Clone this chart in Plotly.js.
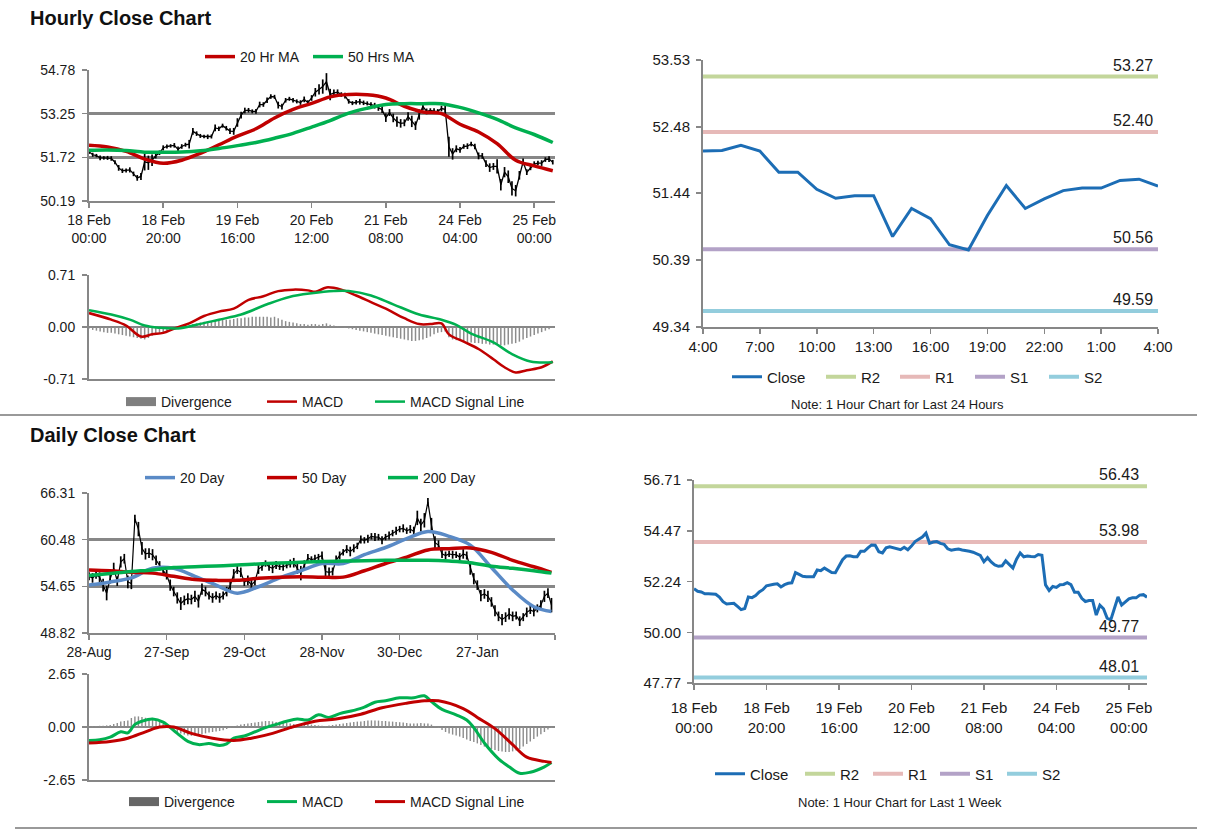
<!DOCTYPE html>
<html><head><meta charset="utf-8">
<script src="https://cdn.plot.ly/plotly-3.0.1.min.js"></script>
<style>html,body{margin:0;padding:0;background:#fff}#chart{width:1212px;height:834px}</style>
</head><body><div id="chart"></div>
<script>
// ---------------- DATA ----------------
// Hourly close, 18 Feb 00:00 .. 25 Feb 04:00 (126 hourly bars)
const hourClose = [51.92,51.81,51.78,51.70,51.70,51.70,51.68,51.55,51.35,51.25,
 51.26,51.28,51.14,51.00,51.05,51.56,51.53,51.62,51.78,51.88,
 52.05,52.10,52.12,52.14,52.00,52.10,52.16,52.18,52.63,52.55,
 52.47,52.45,52.44,52.45,52.75,52.72,52.83,52.74,52.64,52.63,
 52.94,53.20,53.36,53.37,53.33,53.33,53.57,53.57,53.72,53.85,
 53.84,53.55,53.50,53.72,53.77,53.72,53.68,53.64,53.75,53.64,
 53.80,54.00,54.10,54.20,54.37,53.92,53.98,54.00,53.92,53.88,
 53.68,53.62,53.65,53.67,53.63,53.61,53.57,53.53,53.45,53.39,
 53.11,53.29,53.10,52.97,52.91,52.93,53.15,52.98,52.83,53.22,
 53.50,53.33,53.36,53.34,53.33,53.43,53.40,52.09,51.84,52.02,
 51.98,52.10,52.11,52.19,52.10,51.77,51.77,51.50,51.36,51.40,
 51.40,50.76,51.20,51.04,50.63,50.55,51.09,51.56,51.20,51.35,
 51.48,51.52,51.52,51.64,51.66,51.55];
// half of the hourly high-low range
const hourBarHalf = [0.08,0.07,0.06,0.08,0.06,0.07,0.08,0.07,0.10,0.08,0.07,0.09,0.08,0.10,0.12,0.30,0.25,0.20,0.10,0.08,
 0.09,0.07,0.06,0.08,0.10,0.08,0.07,0.15,0.12,0.08,0.07,0.06,0.08,0.07,0.12,0.08,0.07,0.08,0.10,0.12,
 0.15,0.12,0.10,0.08,0.07,0.08,0.10,0.08,0.10,0.08,0.07,0.12,0.10,0.08,0.07,0.08,0.07,0.08,0.10,0.08,
 0.10,0.15,0.18,0.25,0.30,0.20,0.12,0.10,0.08,0.10,0.08,0.07,0.08,0.10,0.08,0.07,0.08,0.10,0.10,0.12,
 0.15,0.12,0.15,0.18,0.15,0.12,0.15,0.20,0.15,0.18,0.12,0.10,0.08,0.10,0.08,0.10,0.12,0.35,0.20,0.12,
 0.10,0.08,0.10,0.08,0.10,0.12,0.10,0.12,0.15,0.12,0.25,0.20,0.18,0.22,0.25,0.20,0.15,0.12,0.10,0.08,
 0.10,0.08,0.10,0.08,0.10,0.08];
const hourTickLabels = ['18 Feb<br>00:00','18 Feb<br>20:00','19 Feb<br>16:00','20 Feb<br>12:00','21 Feb<br>08:00','24 Feb<br>04:00','25 Feb<br>00:00'];
const hourPriceTicks = [50.19, 51.72, 53.25, 54.78];
// hourly moving averages (sampled every 5 bars)
const hMaIdx = [0,5,10,15,20,25,30,35,40,45,50,55,60,65,70,75,80,85,90,95,100,105,110,115,120,125];
const hMa20 = [52.14,52.08,51.93,51.66,51.51,51.62,51.86,52.16,52.46,52.72,53.10,53.40,53.61,53.84,53.92,53.91,53.80,53.51,53.31,53.25,52.88,52.61,52.20,51.62,51.42,51.25];
const hMa50 = [51.97,51.98,51.96,51.90,51.90,51.91,51.95,52.03,52.13,52.24,52.39,52.56,52.78,53.01,53.27,53.44,53.57,53.60,53.60,53.60,53.47,53.28,53.05,52.75,52.52,52.24];
// hourly MACD
const hMacdIdx = [0,6,10,14,17,20,23,27,31,35,39,43,47,51,55,59,61,64,68,72,76,80,85,89,92,95,97,101,105,109,112,115,118,122,125];
const hMacd = [0.19,0.10,0.02,-0.13,-0.10,-0.08,-0.02,0.05,0.15,0.21,0.25,0.37,0.42,0.49,0.51,0.50,0.48,0.54,0.51,0.43,0.34,0.25,0.12,0.04,0.04,0.05,-0.10,-0.20,-0.30,-0.44,-0.55,-0.62,-0.59,-0.55,-0.47];
const hSigIdx = [0,6,11,15,19,24,29,35,41,48,54,60,66,70,76,82,89,95,99,103,109,114,119,125];
const hSig = [0.23,0.17,0.10,0.02,-0.01,-0.02,0.03,0.10,0.17,0.31,0.41,0.46,0.49,0.49,0.43,0.31,0.17,0.10,0.03,-0.09,-0.21,-0.37,-0.47,-0.48];
const hourDiv = [-0.02,-0.04,-0.05,-0.06,-0.07,-0.08,-0.08,-0.09,-0.10,-0.11,-0.12,-0.13,-0.14,-0.15,-0.16,-0.17,-0.15,-0.12,-0.10,-0.08,
 -0.07,-0.05,-0.04,-0.03,-0.02,-0.01,0.01,0.02,0.04,0.05,0.06,0.07,0.07,0.08,0.09,0.09,0.10,0.10,0.10,0.11,
 0.12,0.12,0.13,0.13,0.14,0.14,0.14,0.14,0.14,0.13,0.14,0.12,0.10,0.08,0.07,0.06,0.05,0.04,0.04,0.03,
 0.04,0.04,0.03,0.04,0.05,0.03,0.02,0.01,0.00,-0.01,-0.02,-0.03,-0.04,-0.05,-0.06,-0.07,-0.08,-0.09,-0.10,-0.11,
 -0.12,-0.13,-0.14,-0.15,-0.16,-0.17,-0.18,-0.19,-0.19,-0.18,-0.17,-0.15,-0.13,-0.10,-0.08,-0.07,-0.06,-0.14,-0.17,-0.18,
 -0.19,-0.20,-0.21,-0.21,-0.22,-0.22,-0.23,-0.23,-0.24,-0.24,-0.24,-0.25,-0.25,-0.24,-0.23,-0.22,-0.20,-0.17,-0.15,-0.13,
 -0.11,-0.09,-0.07,-0.05,-0.03,-0.01];
const hMacdTicks = [-0.71, 0.00, 0.71];

// Last 24 hours (4:00 .. 4:00)
const h24Close = [52.10,52.11,52.19,52.10,51.77,51.77,51.50,51.36,51.40,51.40,50.76,51.20,51.04,50.63,50.55,51.09,51.56,51.20,51.35,51.48,51.52,51.52,51.64,51.66,51.55];
const h24TickLabels = ['4:00','7:00','10:00','13:00','16:00','19:00','22:00','1:00','4:00'];
const h24Ticks = [49.34, 50.39, 51.44, 52.48, 53.53];
const levelNames = ['R2','R1','S1','S2'];
const h24Levels = [53.27, 52.40, 50.56, 49.59];
const wkLevels = [56.43, 53.98, 49.77, 48.01];
const wkTicks = [47.77, 50.00, 52.24, 54.47, 56.71];

// Daily close, 28-Aug .. Feb (132 days)
const dayClose = [55.9,55.7,56.1,55.8,54.8,53.8,55.6,56.9,55.3,57.7,
 58.1,55.2,55.0,63.1,61.8,59.4,58.7,58.8,58.6,57.9,
 57.2,56.6,56.1,54.8,54.0,53.2,52.5,52.9,53.1,53.0,
 53.4,52.8,54.3,54.0,53.5,53.2,53.5,53.2,53.5,54.0,
 54.7,56.2,56.7,56.4,55.2,55.4,54.8,55.3,56.8,57.1,
 57.5,57.1,56.9,57.3,57.1,57.1,57.3,57.5,57.6,56.9,
 56.3,57.3,58.2,58.0,58.1,58.3,58.5,56.5,56.4,56.5,
 57.9,58.5,58.9,59.3,59.0,59.4,59.7,60.5,60.4,60.6,
 60.9,60.8,60.8,60.4,60.8,61.0,61.3,61.6,61.8,61.9,
 61.6,61.8,61.5,63.2,62.3,62.9,65.2,62.3,60.1,59.8,
 58.7,58.5,58.7,58.6,58.6,58.3,58.7,58.5,56.9,55.6,
 54.8,53.5,53.7,53.4,52.7,51.6,50.9,50.5,50.8,51.2,
 50.9,51.0,50.3,50.8,51.4,51.7,51.5,51.9,52.3,53.4,
 53.8,52.3];
const dayBarHalf = [0.5,0.6,0.5,0.6,0.8,0.9,0.6,0.7,0.6,0.7,0.6,0.8,0.7,0.5,0.9,0.8,0.7,0.6,0.7,0.6,
 0.6,0.5,0.6,0.7,0.6,0.7,0.8,0.6,0.7,0.6,0.7,0.8,0.7,0.6,0.5,0.6,0.5,0.6,0.5,0.6,
 0.7,0.6,0.5,0.6,0.5,0.6,0.7,0.5,0.6,0.5,0.4,0.5,0.6,0.5,0.4,0.5,0.4,0.5,0.6,0.7,
 0.9,0.6,0.5,0.4,0.5,0.4,0.5,0.8,0.6,0.5,0.6,0.5,0.4,0.5,0.6,0.5,0.4,0.5,0.4,0.5,
 0.4,0.5,0.4,0.5,0.4,0.5,0.4,0.5,0.4,0.5,0.4,0.5,0.6,0.9,0.8,0.9,0.5,0.9,0.8,0.6,
 0.5,0.5,0.4,0.5,0.4,0.5,0.6,0.5,0.8,0.7,0.6,0.7,0.6,0.7,0.6,0.7,0.6,0.7,0.6,0.7,
 0.6,0.5,0.6,0.5,0.6,0.5,0.6,0.5,0.6,0.7,0.6,0.9];
const dayTickLabels = ['28-Aug','27-Sep','29-Oct','28-Nov','30-Dec','27-Jan'];
const dayPriceTicks = [48.82, 54.65, 60.48, 66.31];
const dMaIdx = [0,6,12,18,24,30,36,42,48,54,60,66,72,78,84,90,96,102,108,114,120,126,131];
const dMa20 = [54.8,55.2,55.7,56.9,56.9,55.9,54.8,53.8,54.6,55.7,56.6,57.5,57.5,58.6,59.5,60.6,61.5,60.9,59.8,57.0,54.2,52.1,51.5];
const dMa50 = [56.7,56.6,56.4,56.3,55.9,55.5,55.4,55.4,55.65,55.8,55.85,55.8,55.8,56.6,57.5,58.3,59.2,59.35,59.45,58.9,57.9,57.1,56.4];
const dMa200 = [56.0,56.25,56.5,56.7,57.0,57.1,57.2,57.3,57.45,57.55,57.65,57.75,57.8,57.85,57.9,57.9,57.9,57.8,57.6,57.15,56.9,56.6,56.3];
// daily MACD
const dMacdIdx = [0,3,6,9,11,13,15,18,21,25,28,31,34,37,39,41,44,46,50,53,56,59,62,65,68,71,75,78,81,84,88,92,95,97,100,104,107,109,112,116,119,122,125,129,131];
const dMacd = [-0.67,-0.64,-0.51,-0.24,-0.29,0.13,0.29,0.40,0.24,-0.32,-0.72,-0.88,-0.83,-0.92,-0.84,-0.56,-0.45,-0.32,-0.03,0.13,0.29,0.40,0.35,0.61,0.48,0.67,0.83,0.99,1.24,1.31,1.46,1.46,1.56,1.27,0.88,0.61,0.35,-0.03,-0.80,-1.59,-1.99,-2.31,-2.26,-1.99,-1.78];
const dSigIdx = [0,6,11,16,20,24,29,35,41,46,52,57,64,70,77,83,90,95,99,106,110,115,120,124,129,131];
const dSig = [-0.80,-0.72,-0.56,-0.24,0.00,0.00,-0.32,-0.56,-0.67,-0.56,-0.32,-0.03,0.29,0.40,0.64,0.96,1.19,1.31,1.31,0.92,0.48,-0.08,-0.88,-1.51,-1.72,-1.78];
const dayDiv = [0.04,0.05,0.05,0.06,0.06,0.08,0.10,0.15,0.20,0.28,0.30,0.32,0.45,0.52,0.53,0.50,0.46,0.42,0.38,0.32,
 0.25,0.15,0.05,-0.05,-0.15,-0.25,-0.32,-0.38,-0.42,-0.44,-0.43,-0.40,-0.36,-0.32,-0.28,-0.25,-0.22,-0.20,-0.16,-0.10,
 -0.04,0.02,0.08,0.12,0.15,0.18,0.20,0.22,0.25,0.28,0.30,0.30,0.28,0.25,0.26,0.22,0.20,0.18,0.15,0.12,
 0.10,0.12,0.15,0.12,0.10,0.08,0.06,0.05,0.08,0.10,0.12,0.15,0.18,0.20,0.22,0.25,0.27,0.28,0.30,0.32,
 0.33,0.33,0.32,0.30,0.30,0.28,0.27,0.25,0.24,0.22,0.20,0.18,0.17,0.18,0.20,0.18,0.17,0.12,0.05,-0.05,
 -0.15,-0.25,-0.32,-0.38,-0.42,-0.48,-0.55,-0.62,-0.70,-0.75,-0.82,-0.90,-0.98,-1.05,-1.10,-1.15,-1.20,-1.22,-1.25,-1.25,
 -1.22,-1.18,-1.10,-0.98,-0.85,-0.72,-0.60,-0.48,-0.36,-0.25,-0.12,-0.05];
const dMacdTicks = [-2.65, 0.00, 2.65];

// ---------------- STYLE / LAYOUT ----------------
const W = 1212, H = 834;
const dx = (a, b) => [a / W, b / W];
const dy = (top, bot) => [1 - bot / H, 1 - top / H];
const px = v => v / W, py = v => 1 - v / H;
const GRAY = '#878787';
const TXT = '#1a1a1a';
const F = '"Liberation Sans", Arial, sans-serif';
const RED = '#C00000', GREEN = '#00B050', BLUE = '#5A8AC6', CBLUE = '#1C6DB5', DIVC = '#8C8C8C';
const levelColors = ['#C3D69B', '#E6B9B8', '#B3A2C7', '#93CDDD'];
const idx = a => a.map((_, i) => i);
const fmt2 = a => a.map(v => v.toFixed(2));
const tf = size => ({family: F, size: size, color: TXT});

const traces = [];
const legends = {};
let legN = 0;
// each legend entry is its own one-item legend placed where the reference puts it
function leg(trace, symStart, yc, size) {
  legN += 1;
  const id = legN === 1 ? 'legend' : 'legend' + legN;
  trace.legend = id;
  legends[id] = {x: px(symStart - 5), y: py(yc), xanchor: 'left', yanchor: 'middle', orientation: 'h',
    bgcolor: 'rgba(0,0,0,0)', borderwidth: 0, font: tf(size || 14), itemwidth: 30};
  return trace;
}

// A: hourly price
traces.push({x: idx(hourClose), y: hourClose, xaxis: 'x', yaxis: 'y', type: 'scatter', mode: 'lines',
  line: {color: '#000', width: 1.3}, showlegend: false, hoverinfo: 'skip',
  error_y: {type: 'data', array: hourBarHalf, visible: true, color: '#000', thickness: 1.7, width: 0}});
traces.push(leg({x: hMaIdx, y: hMa20, xaxis: 'x', yaxis: 'y', mode: 'lines', name: '20 Hr MA',
  line: {color: RED, width: 3.5, shape: 'spline'}}, 205, 57));
traces.push(leg({x: hMaIdx, y: hMa50, xaxis: 'x', yaxis: 'y', mode: 'lines', name: '50 Hrs MA',
  line: {color: GREEN, width: 3.5, shape: 'spline'}}, 313, 57));
// B: hourly MACD
traces.push({x: idx(hourDiv), y: hourDiv, xaxis: 'x2', yaxis: 'y2', type: 'bar', width: 0.4, name: 'Divergence',
  showlegend: false, marker: {color: DIVC, line: {width: 0}}});
traces.push(leg({x: [null], y: [null], xaxis: 'x2', yaxis: 'y2', mode: 'lines', name: 'Divergence',
  line: {color: '#7F7F7F', width: 9}}, 126, 402));
traces.push(leg({x: hMacdIdx, y: hMacd, xaxis: 'x2', yaxis: 'y2', mode: 'lines', name: 'MACD',
  line: {color: RED, width: 2.5, shape: 'spline'}}, 267, 402));
traces.push(leg({x: hSigIdx, y: hSig, xaxis: 'x2', yaxis: 'y2', mode: 'lines', name: 'MACD Signal Line',
  line: {color: GREEN, width: 2.5, shape: 'spline'}}, 375, 402));
// C: last 24 hours
const cStarts = [826, 900, 975, 1049];
levelNames.forEach((n, i) => traces.push(leg({x: [0, h24Close.length - 1], y: [h24Levels[i], h24Levels[i]], xaxis: 'x3', yaxis: 'y3',
  mode: 'lines', name: n, line: {color: levelColors[i], width: 4}}, cStarts[i], 377, 15)));
traces.push(leg({x: idx(h24Close), y: h24Close, xaxis: 'x3', yaxis: 'y3', mode: 'lines', name: 'Close',
  line: {color: CBLUE, width: 3}}, 732, 377, 15));
// D: daily price
traces.push({x: idx(dayClose), y: dayClose, xaxis: 'x4', yaxis: 'y4', type: 'scatter', mode: 'lines',
  line: {color: '#000', width: 1.2}, showlegend: false, hoverinfo: 'skip',
  error_y: {type: 'data', array: dayBarHalf, visible: true, color: '#000', thickness: 1.7, width: 0}});
traces.push(leg({x: dMaIdx, y: dMa20, xaxis: 'x4', yaxis: 'y4', mode: 'lines', name: '20 Day',
  line: {color: BLUE, width: 3.5, shape: 'spline'}}, 145, 478));
traces.push(leg({x: dMaIdx, y: dMa50, xaxis: 'x4', yaxis: 'y4', mode: 'lines', name: '50 Day',
  line: {color: RED, width: 3.5, shape: 'spline'}}, 267, 478));
traces.push(leg({x: dMaIdx, y: dMa200, xaxis: 'x4', yaxis: 'y4', mode: 'lines', name: '200 Day',
  line: {color: GREEN, width: 3.5, shape: 'spline'}}, 388, 478));
// E: daily MACD
traces.push({x: idx(dayDiv), y: dayDiv, xaxis: 'x5', yaxis: 'y5', type: 'bar', width: 0.4, name: 'Divergence',
  showlegend: false, marker: {color: DIVC, line: {width: 0}}});
traces.push(leg({x: [null], y: [null], xaxis: 'x5', yaxis: 'y5', mode: 'lines', name: 'Divergence',
  line: {color: '#666', width: 9}}, 129, 802));
traces.push(leg({x: dMacdIdx, y: dMacd, xaxis: 'x5', yaxis: 'y5', mode: 'lines', name: 'MACD',
  line: {color: GREEN, width: 3, shape: 'spline'}}, 267, 802));
traces.push(leg({x: dSigIdx, y: dSig, xaxis: 'x5', yaxis: 'y5', mode: 'lines', name: 'MACD Signal Line',
  line: {color: RED, width: 3, shape: 'spline'}}, 375, 802));
// F: last week hourly
const fStarts = [805, 873, 940, 1007];
levelNames.forEach((n, i) => traces.push(leg({x: [0, hourClose.length - 1], y: [wkLevels[i], wkLevels[i]], xaxis: 'x6', yaxis: 'y6',
  mode: 'lines', name: n, line: {color: levelColors[i], width: 4}}, fStarts[i], 774, 15)));
traces.push(leg({x: idx(hourClose), y: hourClose, xaxis: 'x6', yaxis: 'y6', mode: 'lines', name: 'Close',
  line: {color: CBLUE, width: 3}}, 715, 774, 15));

function xax(domain, range, anchor, vals, text, size, extra) {
  return Object.assign({domain, range, anchor, tickmode: 'array', tickvals: vals, ticktext: text, ticks: 'outside', ticklen: 5,
    tickcolor: GRAY, tickwidth: 1.5, showline: true, linecolor: GRAY, linewidth: 2, showgrid: false, zeroline: false,
    tickfont: tf(size), fixedrange: true}, extra || {});
}
function yax(domain, range, anchor, vals, grid, size, standoff) {
  return {domain, range, anchor, tickmode: 'array', tickvals: vals, ticktext: fmt2(vals), ticks: 'outside', ticklen: 5,
    tickcolor: GRAY, tickwidth: 1.5, showline: true, linecolor: GRAY, linewidth: 2, showgrid: grid, gridcolor: GRAY, gridwidth: 2.5,
    zeroline: false, tickfont: tf(size), ticklabelstandoff: standoff, fixedrange: true};
}
const step = (labels, n) => labels.map((_, i) => i * n);

const layout = Object.assign({
  width: W, height: H, autosize: false, margin: {l: 0, r: 0, t: 0, b: 0},
  paper_bgcolor: '#fff', plot_bgcolor: 'rgba(0,0,0,0)', barmode: 'overlay', hovermode: false,
  xaxis: xax(dx(89, 555), [0, 125.6], 'y', step(hourTickLabels, 20), hourTickLabels, 14),
  yaxis: yax(dy(70, 201), [50.19, 54.78], 'x', hourPriceTicks, true, 14, 4),
  xaxis2: xax(dx(89, 555), [0, 125.6], 'y2', [], [], 13, {ticks: '', showticklabels: false}),
  yaxis2: yax(dy(275, 379), [-0.71, 0.71], 'x2', hMacdTicks, true, 14, 4),
  xaxis3: xax(dx(703, 1158), [0, 24], 'y3', step(h24TickLabels, 3), h24TickLabels, 15),
  yaxis3: yax(dy(60, 327), [49.34, 53.53], 'x3', h24Ticks, false, 15, 3),
  xaxis4: xax(dx(89, 555), [0, 132], 'y4', step(dayTickLabels, 22).concat([132]), dayTickLabels.concat(['']), 14),
  yaxis4: yax(dy(493, 633), [48.82, 66.31], 'x4', dayPriceTicks, true, 14, 4),
  xaxis5: xax(dx(89, 555), [0, 132], 'y5', [], [], 13, {ticks: '', showticklabels: false}),
  yaxis5: yax(dy(674, 780), [-2.65, 2.65], 'x5', dMacdTicks, true, 14, 4),
  xaxis6: xax(dx(694, 1147), [0, 125], 'y6', step(hourTickLabels, 20), hourTickLabels, 15, {ticklabelstandoff: 5}),
  yaxis6: yax(dy(480, 683), [47.77, 56.71], 'x6', wkTicks, false, 15, 3),
  shapes: [
    {type: 'line', xref: 'paper', yref: 'paper', x0: 0, x1: px(1197), y0: py(415), y1: py(415), line: {color: '#999', width: 2}},
    {type: 'line', xref: 'paper', yref: 'paper', x0: px(15), x1: px(1197), y0: py(828), y1: py(828), line: {color: '#999', width: 2}}
  ],
  annotations: [
    {xref: 'paper', yref: 'paper', x: px(28), y: py(18), xanchor: 'left', yanchor: 'middle', showarrow: false,
      text: '<b>Hourly Close Chart</b>', font: {family: F, size: 20, color: '#111'}},
    {xref: 'paper', yref: 'paper', x: px(28), y: py(435), xanchor: 'left', yanchor: 'middle', showarrow: false,
      text: '<b>Daily Close Chart</b>', font: {family: F, size: 20, color: '#111'}},
    {xref: 'paper', yref: 'paper', x: px(897), y: py(404), xanchor: 'center', yanchor: 'middle', showarrow: false,
      text: 'Note: 1 Hour Chart for Last 24 Hours', font: {family: F, size: 13, color: TXT}},
    {xref: 'paper', yref: 'paper', x: px(900), y: py(802), xanchor: 'center', yanchor: 'middle', showarrow: false,
      text: 'Note: 1 Hour Chart for Last 1 Week', font: {family: F, size: 13, color: TXT}}
  ].concat(h24Levels.map(v => ({xref: 'x3', yref: 'y3', x: h24Close.length - 1, y: v, xanchor: 'right', yanchor: 'bottom',
      xshift: -3, yshift: 1, showarrow: false, text: v.toFixed(2), font: {family: F, size: 16, color: TXT}})))
   .concat(wkLevels.map(v => ({xref: 'x6', yref: 'y6', x: hourClose.length - 1, y: v, xanchor: 'right', yanchor: 'bottom',
      xshift: -6, yshift: 1, showarrow: false, text: v.toFixed(2), font: {family: F, size: 16, color: TXT}})))
}, legends);

Plotly.newPlot('chart', traces, layout, {displayModeBar: false, staticPlot: true});
</script></body></html>
